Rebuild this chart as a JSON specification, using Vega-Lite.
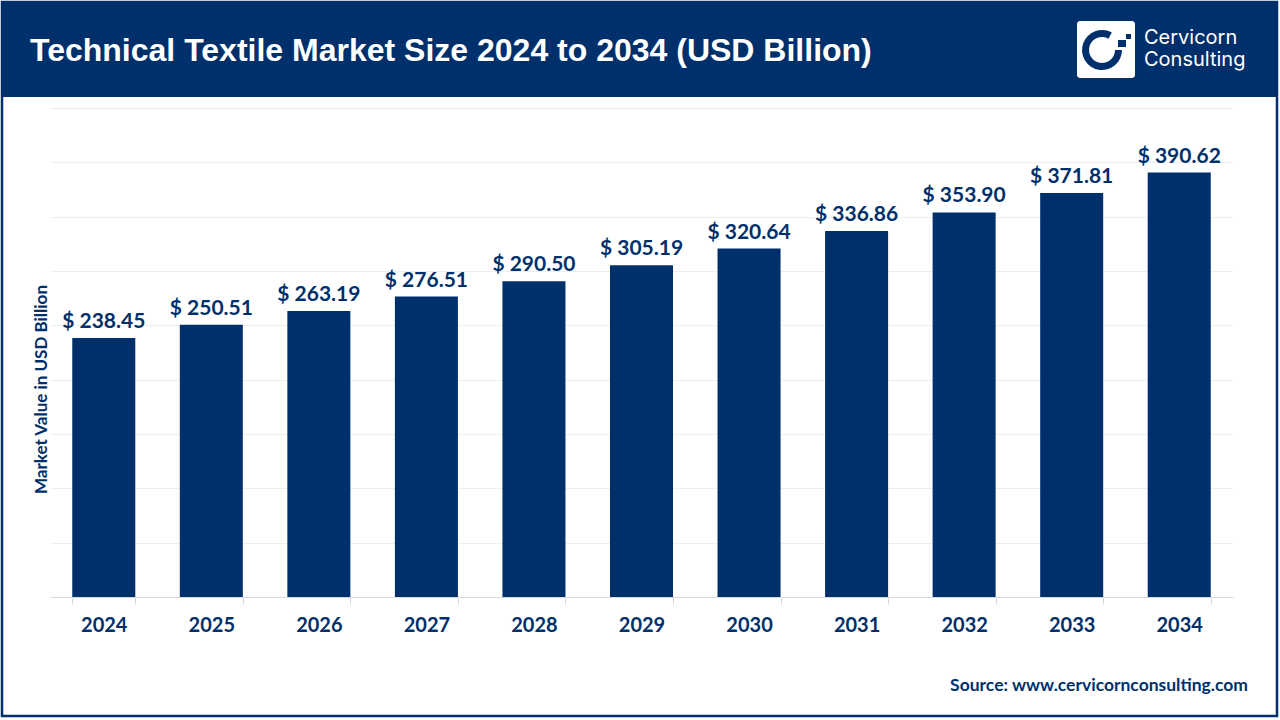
{
  "$schema": "https://vega.github.io/schema/vega-lite/v6.json",
  "width": 1183,
  "height": 489,
  "autosize": "none",
  "padding": {"left": 50, "top": 108, "right": 47, "bottom": 123},
  "background": "white",
  "config": {"view": {"stroke": null}},
  "data": {
    "values": [
      {"year": "2024", "value": 238.45, "label": "$ 238.45"},
      {"year": "2025", "value": 250.51, "label": "$ 250.51"},
      {"year": "2026", "value": 263.19, "label": "$ 263.19"},
      {"year": "2027", "value": 276.51, "label": "$ 276.51"},
      {"year": "2028", "value": 290.5, "label": "$ 290.50"},
      {"year": "2029", "value": 305.19, "label": "$ 305.19"},
      {"year": "2030", "value": 320.64, "label": "$ 320.64"},
      {"year": "2031", "value": 336.86, "label": "$ 336.86"},
      {"year": "2032", "value": 353.9, "label": "$ 353.90"},
      {"year": "2033", "value": 371.81, "label": "$ 371.81"},
      {"year": "2034", "value": 390.62, "label": "$ 390.62"}
    ]
  },
  "layer": [
    {
      "layer": [
        {
          "mark": {"type": "bar", "color": "#00306b"},
          "encoding": {
            "x": {
              "field": "year",
              "type": "ordinal",
              "title": null,
              "scale": {"paddingInner": 0.414, "paddingOuter": 0.207},
              "axis": {
                "labelAngle": 0,
                "labelFont": "Lato",
                "labelFontWeight": "bold",
                "labelFontSize": 20,
                "labelColor": "#00306b",
                "labelPadding": 11,
                "tickBand": "extent",
                "tickSize": 7,
                "tickColor": "#d9d9d9",
                "domainColor": "#d9d9d9"
              }
            },
            "y": {
              "field": "value",
              "type": "quantitative",
              "title": "Market Value in USD Billion",
              "scale": {"domain": [0, 450], "nice": false},
              "axis": {
                "values": [0, 50, 100, 150, 200, 250, 300, 350, 400, 450],
                "labels": false,
                "ticks": false,
                "domain": false,
                "gridColor": "#eeeeee",
                "titleFont": "Lato",
                "titleFontWeight": "bold",
                "titleFontSize": 17,
                "titleColor": "#00306b",
                "titlePadding": 0,
                "titleY": 281
              }
            }
          }
        },
        {
          "mark": {"type": "text", "font": "Lato", "fontWeight": "bold", "fontSize": 21, "color": "#00306b", "baseline": "bottom", "dy": -6},
          "encoding": {
            "x": {"field": "year", "type": "ordinal"},
            "y": {"field": "value", "type": "quantitative"},
            "text": {"field": "label"}
          }
        }
      ]
    },
    {
      "data": {"values": [{"part": "header"}]},
      "mark": {"type": "rect", "color": "#00306b"},
      "encoding": {
        "x": {"datum": 1, "type": "quantitative", "scale": {"domain": [0, 1280], "range": [-50, 1230]}, "axis": null},
        "x2": {"datum": 1278},
        "y": {"datum": 1, "type": "quantitative", "scale": {"domain": [0, 720], "range": [-108, 612]}, "axis": null},
        "y2": {"datum": 97}
      }
    },
    {
      "data": {"values": [{"part": "frame"}]},
      "mark": {"type": "rect", "fillOpacity": 0, "stroke": "#00306b", "strokeWidth": 2.5},
      "encoding": {
        "x": {"datum": 2, "type": "quantitative", "scale": {"domain": [0, 1280], "range": [-50, 1230]}, "axis": null},
        "x2": {"datum": 1277},
        "y": {"datum": 2, "type": "quantitative", "scale": {"domain": [0, 720], "range": [-108, 612]}, "axis": null},
        "y2": {"datum": 716}
      }
    },
    {
      "data": {"values": [{"label": "Technical Textile Market Size 2024 to 2034 (USD Billion)"}]},
      "mark": {"type": "text", "font": "Liberation Sans", "fontWeight": "bold", "fontSize": 32, "color": "white", "align": "left", "baseline": "middle"},
      "encoding": {
        "x": {"datum": 30, "type": "quantitative", "scale": {"domain": [0, 1280], "range": [-50, 1230]}, "axis": null},
        "y": {"datum": 51, "type": "quantitative", "scale": {"domain": [0, 720], "range": [-108, 612]}, "axis": null},
        "text": {"field": "label"}
      }
    },
    {
      "data": {"values": [{"part": "logo tile"}]},
      "mark": {"type": "rect", "color": "white", "cornerRadius": 3},
      "encoding": {
        "x": {"datum": 1077, "type": "quantitative", "scale": {"domain": [0, 1280], "range": [-50, 1230]}, "axis": null},
        "x2": {"datum": 1135},
        "y": {"datum": 21, "type": "quantitative", "scale": {"domain": [0, 720], "range": [-108, 612]}, "axis": null},
        "y2": {"datum": 78}
      }
    },
    {
      "data": {"values": [{"part": "logo ring"}]},
      "mark": {"type": "arc", "color": "#00306b", "radius": 20, "radius2": 13, "theta": 1.57, "theta2": 6.8},
      "encoding": {
        "x": {"datum": 1102, "type": "quantitative", "scale": {"domain": [0, 1280], "range": [-50, 1230]}, "axis": null},
        "y": {"datum": 50, "type": "quantitative", "scale": {"domain": [0, 720], "range": [-108, 612]}, "axis": null}
      }
    },
    {
      "data": {"values": [{"part": "logo dot"}]},
      "mark": {"type": "rect", "color": "#00306b"},
      "encoding": {
        "x": {"datum": 1118, "type": "quantitative", "scale": {"domain": [0, 1280], "range": [-50, 1230]}, "axis": null},
        "x2": {"datum": 1126},
        "y": {"datum": 40, "type": "quantitative", "scale": {"domain": [0, 720], "range": [-108, 612]}, "axis": null},
        "y2": {"datum": 47}
      }
    },
    {
      "data": {"values": [{"part": "logo dot small"}]},
      "mark": {"type": "rect", "color": "#00306b"},
      "encoding": {
        "x": {"datum": 1126, "type": "quantitative", "scale": {"domain": [0, 1280], "range": [-50, 1230]}, "axis": null},
        "x2": {"datum": 1131},
        "y": {"datum": 34, "type": "quantitative", "scale": {"domain": [0, 720], "range": [-108, 612]}, "axis": null},
        "y2": {"datum": 39}
      }
    },
    {
      "data": {"values": [{"label": "Cervicorn"}]},
      "mark": {"type": "text", "font": "Inter", "fontSize": 20, "color": "white", "align": "left", "baseline": "middle"},
      "encoding": {
        "x": {"datum": 1144, "type": "quantitative", "scale": {"domain": [0, 1280], "range": [-50, 1230]}, "axis": null},
        "y": {"datum": 38, "type": "quantitative", "scale": {"domain": [0, 720], "range": [-108, 612]}, "axis": null},
        "text": {"field": "label"}
      }
    },
    {
      "data": {"values": [{"label": "Consulting"}]},
      "mark": {"type": "text", "font": "Inter", "fontSize": 20, "color": "white", "align": "left", "baseline": "middle"},
      "encoding": {
        "x": {"datum": 1144, "type": "quantitative", "scale": {"domain": [0, 1280], "range": [-50, 1230]}, "axis": null},
        "y": {"datum": 60, "type": "quantitative", "scale": {"domain": [0, 720], "range": [-108, 612]}, "axis": null},
        "text": {"field": "label"}
      }
    },
    {
      "data": {"values": [{"label": "Source: www.cervicornconsulting.com"}]},
      "mark": {"type": "text", "font": "Lato", "fontWeight": "bold", "fontSize": 17.5, "color": "#00306b", "align": "right", "baseline": "middle"},
      "encoding": {
        "x": {"datum": 1248, "type": "quantitative", "scale": {"domain": [0, 1280], "range": [-50, 1230]}, "axis": null},
        "y": {"datum": 686, "type": "quantitative", "scale": {"domain": [0, 720], "range": [-108, 612]}, "axis": null},
        "text": {"field": "label"}
      }
    }
  ],
  "resolve": {"scale": {"x": "independent", "y": "independent"}}
}
